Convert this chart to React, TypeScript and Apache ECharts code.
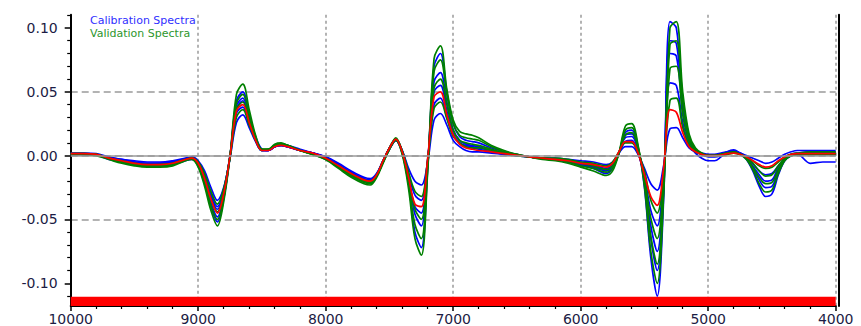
import React, { useEffect, useRef } from "react";
import * as echarts from "echarts";

// Wavenumber grid (cm-1)
const wavenumbers = [
  10000, 9900, 9800, 9700, 9600, 9500, 9400, 9300, 9200, 9100, 9050,
  9000, 8950, 8900, 8850, 8800, 8750, 8700, 8650, 8600, 8550, 8500, 8450, 8400, 8350, 8300,
  8200, 8100, 8000, 7900, 7800, 7700, 7650, 7600, 7550, 7500,
  7450, 7400, 7350, 7300, 7250, 7200, 7150, 7100, 7050, 7000, 6950, 6900, 6850, 6800,
  6700, 6600, 6500, 6400, 6300, 6200, 6100, 6000, 5900, 5800, 5750,
  5700, 5650, 5600, 5550, 5500, 5450, 5400, 5350, 5300, 5250, 5200, 5150, 5100, 5050, 5000,
  4950, 4900, 4850, 4800, 4750, 4700, 4650, 4600, 4550, 4500, 4450, 4400, 4350, 4300, 4200, 4100, 4000,
];

// Calibration spectra (blue)
const calibration1 = [
  0.001, 0.001, 0.0005, -0.003, -0.005, -0.007, -0.008, -0.008, -0.007, -0.004, -0.003,
  -0.008, -0.022, -0.040, -0.052, -0.034, 0.000, 0.043, 0.050, 0.032, 0.015, 0.005, 0.004, 0.007, 0.008, 0.007,
  0.004, 0.002, -0.002, -0.008, -0.015, -0.020, -0.021, -0.016, -0.005, 0.005,
  0.012, 0.002, -0.022, -0.060, -0.072, -0.010, 0.070, 0.080, 0.050, 0.025, 0.015, 0.012, 0.011, 0.010,
  0.006, 0.003, 0.001, -0.001, -0.002, -0.003, -0.005, -0.007, -0.010, -0.014, -0.010,
  0.002, 0.018, 0.020, 0.006, -0.025, -0.080, -0.110, -0.035, 0.105, 0.100, 0.045, 0.015, 0.005, 0.001, -0.001,
  -0.001, 0.000, 0.002, 0.003, 0.001, -0.003, -0.012, -0.024, -0.032, -0.030, -0.015, -0.004, 0.000, 0.001, 0.001, 0.001, 0.001,
];
const calibration2 = [
  0.002, 0.002, 0.0015, -0.001, -0.003, -0.004, -0.005, -0.005, -0.004, -0.002, -0.001,
  -0.004, -0.012, -0.025, -0.035, -0.025, -0.002, 0.026, 0.032, 0.022, 0.011, 0.004, 0.004, 0.007, 0.008, 0.007,
  0.004, 0.002, -0.001, -0.006, -0.012, -0.017, -0.018, -0.014, -0.004, 0.006,
  0.012, 0.004, -0.010, -0.020, -0.023, -0.005, 0.028, 0.033, 0.024, 0.012, 0.007, 0.004, 0.003, 0.003,
  0.002, 0.001, 0.000, -0.001, -0.002, -0.002, -0.003, -0.004, -0.005, -0.007, -0.005,
  0.002, 0.007, 0.007, 0.001, -0.010, -0.022, -0.027, -0.008, 0.021, 0.022, 0.014, 0.006, 0.003, 0.002, 0.001,
  0.001, 0.002, 0.003, 0.003, 0.002, 0.000, -0.002, -0.004, -0.006, -0.005, -0.002, 0.001, 0.003, 0.004, 0.004, 0.004, 0.004,
];
const calibration3 = [
  0.0015, 0.0015, 0.001, -0.002, -0.004, -0.005, -0.006, -0.006, -0.005, -0.003, -0.002,
  -0.007, -0.020, -0.037, -0.048, -0.032, 0.000, 0.039, 0.045, 0.029, 0.013, 0.004, 0.004, 0.007, 0.009, 0.008,
  0.005, 0.002, -0.002, -0.008, -0.014, -0.019, -0.020, -0.015, -0.004, 0.006,
  0.013, 0.003, -0.019, -0.046, -0.055, -0.006, 0.058, 0.065, 0.042, 0.020, 0.012, 0.009, 0.008, 0.007,
  0.004, 0.002, 0.000, -0.001, -0.002, -0.003, -0.004, -0.006, -0.008, -0.011, -0.008,
  0.002, 0.014, 0.015, 0.004, -0.018, -0.055, -0.075, -0.022, 0.080, 0.078, 0.036, 0.012, 0.004, 0.001, 0.000,
  0.000, 0.001, 0.003, 0.004, 0.002, -0.001, -0.008, -0.015, -0.020, -0.019, -0.009, -0.002, 0.001, 0.002, 0.003, 0.003, 0.003,
];
const calibration4 = [
  0.001, 0.001, 0.0005, -0.002, -0.004, -0.006, -0.007, -0.006, -0.005, -0.003, -0.002,
  -0.006, -0.017, -0.032, -0.042, -0.028, 0.000, 0.033, 0.038, 0.025, 0.012, 0.004, 0.004, 0.007, 0.008, 0.007,
  0.004, 0.002, -0.002, -0.008, -0.014, -0.019, -0.020, -0.015, -0.005, 0.005,
  0.012, 0.003, -0.018, -0.040, -0.045, -0.004, 0.050, 0.055, 0.035, 0.017, 0.010, 0.007, 0.006, 0.005,
  0.003, 0.001, 0.000, -0.001, -0.002, -0.003, -0.004, -0.006, -0.007, -0.010, -0.007,
  0.002, 0.011, 0.012, 0.002, -0.016, -0.043, -0.055, -0.015, 0.057, 0.055, 0.026, 0.009, 0.002, -0.002, -0.004,
  -0.004, -0.001, 0.003, 0.0045, 0.002, -0.001, -0.006, -0.012, -0.015, -0.014, -0.008, -0.003, 0.000, 0.001, -0.006, -0.005, -0.005,
];
const calibration5 = [
  0.0015, 0.0015, 0.001, -0.0015, -0.003, -0.005, -0.006, -0.006, -0.005, -0.0025, -0.0015,
  -0.005, -0.015, -0.030, -0.040, -0.027, 0.000, 0.037, 0.043, 0.028, 0.013, 0.004, 0.004, 0.007, 0.008, 0.007,
  0.004, 0.002, -0.001, -0.007, -0.013, -0.018, -0.019, -0.014, -0.004, 0.006,
  0.013, 0.004, -0.014, -0.031, -0.035, -0.003, 0.040, 0.045, 0.030, 0.016, 0.010, 0.008, 0.007, 0.006,
  0.004, 0.002, 0.000, -0.001, -0.002, -0.003, -0.005, -0.007, -0.009, -0.012, -0.009,
  0.002, 0.016, 0.017, 0.005, -0.020, -0.065, -0.090, -0.028, 0.090, 0.088, 0.040, 0.013, 0.004, 0.001, 0.000,
  0.000, 0.001, 0.002, 0.003, 0.001, -0.002, -0.010, -0.019, -0.025, -0.024, -0.012, -0.003, 0.000, 0.001, 0.002, 0.002, 0.002,
];

// Validation spectra (green)
const validation1 = [
  0.001, 0.001, 0.000, -0.003, -0.006, -0.008, -0.009, -0.009, -0.008, -0.004, -0.003,
  -0.009, -0.024, -0.043, -0.055, -0.036, 0.000, 0.048, 0.056, 0.036, 0.016, 0.005, 0.005, 0.009, 0.010, 0.008,
  0.004, 0.001, -0.003, -0.010, -0.017, -0.022, -0.023, -0.017, -0.006, 0.005,
  0.012, 0.001, -0.026, -0.065, -0.078, -0.012, 0.076, 0.086, 0.052, 0.028, 0.019, 0.017, 0.016, 0.014,
  0.008, 0.004, 0.001, -0.001, -0.003, -0.004, -0.006, -0.009, -0.012, -0.0155, -0.012,
  0.002, 0.023, 0.025, 0.008, -0.024, -0.075, -0.100, -0.032, 0.100, 0.105, 0.050, 0.017, 0.006, 0.002, 0.000,
  0.000, 0.001, 0.002, 0.003, 0.001, -0.003, -0.011, -0.022, -0.0285, -0.027, -0.014, -0.004, 0.000, 0.001, 0.002, 0.002, 0.002,
];
const validation2 = [
  0.001, 0.001, 0.0005, -0.0025, -0.005, -0.007, -0.008, -0.008, -0.007, -0.0035, -0.0025,
  -0.008, -0.021, -0.039, -0.050, -0.033, 0.000, 0.041, 0.048, 0.031, 0.014, 0.005, 0.005, 0.008, 0.009, 0.008,
  0.004, 0.001, -0.003, -0.009, -0.016, -0.021, -0.022, -0.016, -0.005, 0.005,
  0.013, 0.002, -0.022, -0.054, -0.065, -0.009, 0.066, 0.075, 0.048, 0.025, 0.016, 0.014, 0.013, 0.012,
  0.007, 0.003, 0.001, -0.001, -0.002, -0.003, -0.005, -0.008, -0.010, -0.013, -0.010,
  0.002, 0.020, 0.022, 0.007, -0.021, -0.063, -0.085, -0.027, 0.087, 0.090, 0.042, 0.014, 0.005, 0.001, 0.000,
  0.000, 0.000, 0.001, 0.002, 0.001, -0.002, -0.009, -0.017, -0.022, -0.021, -0.011, -0.003, 0.000, 0.001, 0.001, 0.001, 0.001,
];
const validation3 = [
  0.0015, 0.0015, 0.001, -0.002, -0.005, -0.007, -0.008, -0.007, -0.006, -0.003, -0.002,
  -0.006, -0.018, -0.034, -0.044, -0.029, 0.000, 0.036, 0.042, 0.027, 0.013, 0.005, 0.005, 0.008, 0.009, 0.008,
  0.004, 0.001, -0.002, -0.009, -0.015, -0.020, -0.021, -0.016, -0.005, 0.006,
  0.014, 0.003, -0.018, -0.042, -0.050, -0.006, 0.053, 0.060, 0.040, 0.020, 0.012, 0.010, 0.009, 0.008,
  0.005, 0.002, 0.000, -0.001, -0.002, -0.003, -0.004, -0.006, -0.008, -0.011, -0.008,
  0.002, 0.016, 0.018, 0.005, -0.018, -0.049, -0.065, -0.020, 0.068, 0.070, 0.032, 0.011, 0.004, 0.001, 0.000,
  0.000, 0.001, 0.002, 0.003, 0.001, -0.001, -0.006, -0.012, -0.016, -0.015, -0.008, -0.002, 0.001, 0.002, 0.003, 0.003, 0.003,
];
const validation4 = [
  0.0015, 0.0015, 0.001, -0.002, -0.004, -0.006, -0.007, -0.007, -0.006, -0.003, -0.002,
  -0.005, -0.014, -0.028, -0.038, -0.026, -0.001, 0.030, 0.036, 0.024, 0.012, 0.004, 0.005, 0.008, 0.009, 0.008,
  0.004, 0.001, -0.002, -0.008, -0.014, -0.019, -0.020, -0.015, -0.004, 0.006,
  0.013, 0.004, -0.013, -0.028, -0.032, -0.003, 0.037, 0.042, 0.029, 0.015, 0.010, 0.007, 0.006, 0.006,
  0.004, 0.002, 0.000, -0.001, -0.002, -0.002, -0.003, -0.005, -0.006, -0.008, -0.005,
  0.003, 0.010, 0.010, 0.002, -0.012, -0.035, -0.045, -0.013, 0.043, 0.045, 0.022, 0.008, 0.003, 0.001, 0.000,
  0.000, 0.001, 0.002, 0.002, 0.001, -0.001, -0.004, -0.008, -0.010, -0.009, -0.005, -0.001, 0.001, 0.001, 0.001, 0.001, 0.001,
];

// Mean spectrum (red)
const meanSpectrum = [
  0.0015, 0.0015, 0.001, -0.002, -0.004, -0.006, -0.007, -0.007, -0.006, -0.003, -0.002,
  -0.006, -0.018, -0.034, -0.045, -0.030, 0.000, 0.035, 0.040, 0.026, 0.012, 0.004, 0.004, 0.007, 0.008, 0.007,
  0.004, 0.002, -0.002, -0.008, -0.014, -0.019, -0.020, -0.015, -0.004, 0.006,
  0.013, 0.003, -0.017, -0.038, -0.040, -0.002, 0.046, 0.050, 0.032, 0.016, 0.009, 0.006, 0.005, 0.004,
  0.003, 0.0015, 0.0003, -0.001, -0.002, -0.003, -0.004, -0.006, -0.007, -0.009, -0.006,
  0.003, 0.011, 0.011, 0.002, -0.015, -0.032, -0.039, -0.010, 0.036, 0.034, 0.018, 0.007, 0.003, 0.001, 0.000,
  0.000, 0.0005, 0.0015, 0.002, 0.001, -0.001, -0.004, -0.007, -0.009, -0.008, -0.004, -0.001, 0.001, 0.0015, 0.0015, 0.0015, 0.0015,
];

const yMajorTicks = [-0.1, -0.05, 0, 0.05, 0.1];
const yMinorTicks = [-0.11, -0.09, -0.08, -0.07, -0.06, -0.04, -0.03, -0.02, -0.01, 0.01, 0.02, 0.03, 0.04, 0.06, 0.07, 0.08, 0.09, 0.11];
const legendLabels = ["Calibration Spectra", "Validation Spectra"];

const Y_MIN = -0.1178;
const Y_MAX = 0.1104;
const RED_BAR_TOP = -0.1105;

const FONT = '"DejaVu Sans", "Liberation Sans", sans-serif';
const LABEL_COLOR = "#1c1c44";

export default function App() {
  const ref = useRef<HTMLDivElement>(null);

  useEffect(() => {
    if (!ref.current) return;
    const chart = echarts.init(ref.current, undefined, { renderer: "svg" });

    const toData = (arr: number[]) => wavenumbers.map((w, i) => [w, arr[i]]);
    const lineSeries = (name: string, arr: number[], color: string, extra: any = {}) => ({
      type: "line",
      name,
      data: toData(arr),
      showSymbol: false,
      symbol: "none",
      smooth: 0.35,
      silent: true,
      lineStyle: { color, width: 1.7 },
      ...extra,
    });

    const blue = "#0000ff";
    const green = "#008000";
    const red = "#ff0000";

    const series: any[] = [
      lineSeries("cal1", calibration1, blue, {
        markLine: {
          silent: true,
          symbol: ["none", "none"],
          label: { show: false },
          lineStyle: { color: "#9a9a9a", type: "solid", width: 1.5 },
          data: [{ yAxis: 0 }],
        },
        markArea: {
          silent: true,
          itemStyle: { color: red, opacity: 1 },
          data: [[{ xAxis: 10000, yAxis: Y_MIN }, { xAxis: 4000, yAxis: RED_BAR_TOP }]],
        },
      }),
      lineSeries("cal2", calibration2, blue),
      lineSeries("cal3", calibration3, blue),
      lineSeries("cal4", calibration4, blue),
      lineSeries("cal5", calibration5, blue),
      lineSeries("val1", validation1, green),
      lineSeries("val2", validation2, green),
      lineSeries("val3", validation3, green),
      lineSeries("val4", validation4, green),
      lineSeries("mean", meanSpectrum, red),
    ];

    chart.setOption({
      animation: false,
      backgroundColor: "#ffffff",
      grid: { left: 70.7, right: 25.3, top: 14.7, bottom: 20 },
      xAxis: {
        type: "value",
        min: 4000,
        max: 10000,
        interval: 1000,
        inverse: true,
        position: "bottom",
        axisLine: { show: true, onZero: false, lineStyle: { color: "#000", width: 2 } },
        axisTick: { show: true, inside: false, length: 5, lineStyle: { color: "#000", width: 1.5 } },
        minorTick: { show: true, splitNumber: 5, length: 3, lineStyle: { color: "#000", width: 1.2 } },
        axisLabel: {
          color: LABEL_COLOR,
          fontSize: 14,
          fontFamily: FONT,
          margin: 6,
          formatter: (v: number) => String(Math.round(v)),
        },
        splitLine: { show: true, lineStyle: { color: "#9a9a9a", type: [3, 3], width: 1.5 } },
      },
      yAxis: [
        {
          type: "value",
          min: Y_MIN,
          max: Y_MAX,
          position: "left",
          axisLine: { show: true, onZero: false, lineStyle: { color: "#000", width: 2 } },
          axisTick: { show: true, inside: false, length: 6, customValues: yMajorTicks, lineStyle: { color: "#000", width: 1.5 } },
          axisLabel: {
            color: LABEL_COLOR,
            fontSize: 14,
            fontFamily: FONT,
            margin: 13,
            customValues: yMajorTicks,
            formatter: (v: number) => (Math.abs(v) < 1e-9 ? "0.00" : v.toFixed(2)),
          },
          splitLine: {
            show: true,
            showMinLine: false,
            showMaxLine: false,
            lineStyle: { color: "#9a9a9a", type: [7, 4], width: 1.5 },
          },
        },
        {
          type: "value",
          min: Y_MIN,
          max: Y_MAX,
          position: "left",
          axisLine: { show: false },
          axisTick: { show: true, inside: false, length: 3.5, customValues: yMinorTicks, lineStyle: { color: "#000", width: 1.2 } },
          axisLabel: { show: false },
          splitLine: { show: false },
        },
        {
          type: "value",
          min: Y_MIN,
          max: Y_MAX,
          position: "right",
          offset: 3.5,
          axisLine: { show: true, onZero: false, lineStyle: { color: "#000", width: 2 } },
          axisTick: { show: false },
          axisLabel: { show: false },
          splitLine: { show: false },
        },
      ],
      graphic: [
        {
          type: "text",
          left: 90,
          top: 15,
          silent: true,
          style: { text: legendLabels[0], fill: "#2f2fff", font: `11px ${FONT}` },
        },
        {
          type: "text",
          left: 90,
          top: 27.5,
          silent: true,
          style: { text: legendLabels[1], fill: "#2d962d", font: `11px ${FONT}` },
        },
      ],
      series,
    });

    return () => chart.dispose();
  }, []);

  return (
    <div
      ref={ref}
      style={{ position: "fixed", left: 0, top: 0, width: 861, height: 326, background: "#fff" }}
    />
  );
}
